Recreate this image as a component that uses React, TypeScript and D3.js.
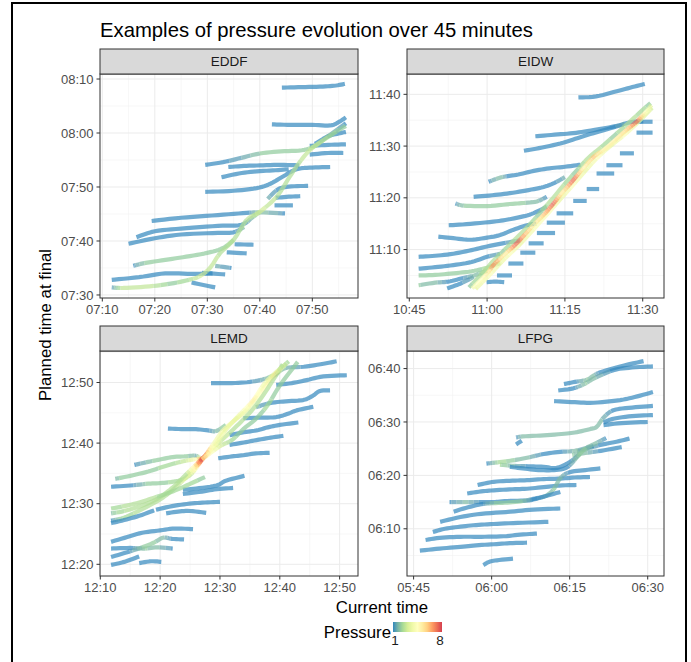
import React from "react";
import * as d3 from "d3";

type P = [number, number, number];

const titleText = "Examples of pressure evolution over 45 minutes";
const airports = ["EDDF", "EIDW", "LEMD", "LFPG"];
const baseHours = [7, 10, 12, 5];
const xTicksList = [[10, 20, 30, 40, 50], [45, 60, 75, 90], [10, 20, 30, 40, 50], [45, 60, 75, 90]];
const yTicksList = [[30, 40, 50, 60, 70], [70, 80, 90, 100], [20, 30, 40, 50], [70, 80, 90, 100]];
const xDomains = [[9.56, 58.7], [44.56, 94.1], [9.95, 53.07], [43.73, 93.13]];
const yDomains = [[29.44, 70.93], [60.64, 103.93], [18.07, 55.2], [61.16, 103.29]];
const pressureRange = [1, 8];
const spectral = ["#3288BD", "#99D594", "#E6F598", "#FFFFBF", "#FEE08B", "#FC8D59", "#D53E4F"];

// [current minute past base hour, planned minute past base hour, pressure]
const eddfTracks: P[][] = [
  [[44.2, 68.4, 1], [48, 68.5, 1], [52, 68.6, 1], [54.5, 68.8, 1], [56.2, 69.1, 1]],
  [[42.3, 61.6, 1], [46, 61.5, 1], [50, 61.5, 1], [53.4, 61.4, 1], [55, 62.0, 1], [56.4, 62.9, 1]],
  [[50.5, 58.0, 1], [53, 59.4, 1], [55, 59.9, 1], [56.4, 60.2, 1]],
  [[49.5, 57.6, 1], [53, 57.8, 1], [56.4, 57.9, 1]],
  [[49.5, 56.0, 1], [53, 56.3, 1], [55.9, 56.3, 1]],
  [[29.6, 54.1, 1], [33, 54.6, 1], [36.5, 55.4, 1.4], [40, 56.2, 1.9], [44, 56.6, 1.9], [48, 56.8, 1.9], [50.5, 57.6, 2.3], [53, 59.4, 1.7], [56.4, 61.8, 1]],
  [[34.0, 53.7, 1], [37, 53.9, 1], [40, 54.0, 1], [44, 54.1, 1], [47.5, 54.0, 1]],
  [[32.7, 51.8, 1], [36, 52.5, 1], [39.4, 52.9, 1], [43, 53.1, 1], [45.5, 53.3, 1]],
  [[29.6, 49.1, 1], [35, 49.3, 1], [39.4, 49.8, 1], [42, 50.6, 1], [44.5, 52.0, 1], [47, 53.3, 1], [50, 53.6, 1], [53.4, 53.7, 1]],
  [[41.5, 47.8, 1.6], [43.5, 49.6, 1], [46, 50.1, 1], [49.2, 50.2, 1]],
  [[43.0, 48.0, 1], [45.5, 48.2, 1], [47.7, 48.3, 1]],
  [[42.8, 46.6, 1], [46.3, 46.6, 1]],
  [[19.4, 43.7, 1], [25, 44.3, 1], [32, 44.8, 1], [37.5, 45.2, 1], [40, 45.3, 1.9], [44.8, 45.1, 1]],
  [[16.5, 40.7, 1], [20, 41.8, 1], [25, 42.3, 1], [32, 42.8, 1], [36.5, 43.0, 1], [38.5, 44.3, 1.8], [40, 45.4, 2.2]],
  [[15, 39.5, 1], [20, 40.5, 1], [25, 41.2, 1], [32, 41.5, 1], [35, 41.6, 1], [37, 42.6, 1.8]],
  [[15.9, 35.4, 1], [18, 35.9, 1.9], [22, 36.5, 1.9], [26, 37.1, 1.9], [30, 37.8, 2], [33, 38.7, 2], [35, 40.2, 2.4]],
  [[35.2, 39.4, 1], [38.8, 39.3, 1]],
  [[33.7, 37.9, 1], [37.5, 37.7, 1]],
  [[31.5, 35.4, 1.5], [34.6, 35.0, 1]],
  [[29, 34.1, 1], [33.4, 33.8, 1]],
  [[27, 32.3, 1], [31.5, 31.4, 1]],
  [[11.8, 32.8, 1], [17, 33.3, 1], [22, 34.0, 1], [27, 33.9, 1], [31, 34.0, 1]],
  [[11.8, 31.4, 1], [14, 31.3, 2.8], [19, 31.6, 2.8], [23, 32.1, 2.0], [26.5, 32.8, 2.4], [28.6, 33.5, 3], [30.5, 35.0, 2.8], [32.4, 37.7, 2.6], [35, 40.2, 2.6], [37.5, 43.9, 2.6], [40, 45.4, 3], [43.2, 48.2, 2.6], [45.7, 51.9, 2.6], [47.5, 54.5, 2.6], [49.6, 56.9, 2.8], [52, 58.6, 2.6], [55, 60.5, 2], [56.4, 61.3, 2]],
];

const eidwTracks: P[][] = [
  [[77.6, 99.4, 1], [81, 99.6, 1], [85, 100.6, 1], [88, 101.4, 1], [90.4, 102.0, 1]],
  [[69.3, 91.9, 1], [73, 92.2, 1], [76.6, 92.5, 1], [80, 93.0, 1], [85, 93.9, 1], [87.6, 94.6, 1], [90.1, 94.8, 1]],
  [[67.1, 89.1, 1], [70, 89.6, 1], [74.1, 90.5, 1], [77, 91.4, 1], [80.5, 92.5, 1], [84.3, 93.6, 1], [86.5, 94.3, 1.5]],
  [[60.3, 83.1, 1], [62.5, 83.9, 1.9], [64, 84.2, 1], [66, 84.5, 1], [69, 85.2, 1], [72, 85.7, 1], [75, 86.0, 1], [78, 86.4, 1]],
  [[57.4, 80.2, 1], [61, 80.5, 1], [64.4, 80.9, 1], [68, 81.5, 1], [70.9, 82.1, 1], [73, 82.9, 1], [75, 84.0, 1.6]],
  [[53.9, 78.9, 1], [55.5, 78.5, 1.9], [60, 78.4, 1.9], [64.4, 78.8, 1.9], [67, 79.0, 1.9], [69.6, 79.3, 1.7], [71.5, 80.2, 1]],
  [[52.6, 74.7, 1], [56, 74.9, 1], [61.2, 75.4, 1], [64, 75.8, 1], [67.7, 76.6, 1], [70, 77.5, 1], [71.5, 78.3, 1.6]],
  [[50.6, 72.5, 1], [53.5, 72.2, 1], [56.7, 71.9, 1], [60, 72.3, 1], [62.5, 72.8, 1], [65, 73.8, 1], [67.7, 74.7, 1], [69.5, 75.0, 1.6]],
  [[46.8, 68.6, 1], [50, 68.8, 1], [53.5, 69.2, 1], [57, 69.9, 1], [60, 70.6, 1], [63, 71.2, 1], [66.4, 71.8, 1.6]],
  [[46.8, 66.3, 1], [50, 66.6, 1], [53.5, 67.0, 1], [57, 67.6, 1], [60, 68.6, 1], [62.5, 69.2, 1.6]],
  [[46.8, 65.0, 1.9], [50, 65.1, 1.9], [53.5, 65.4, 1.9], [57, 65.8, 2], [60, 66.5, 2.2], [62.5, 67.4, 2.6]],
  [[46.8, 63.1, 1.9], [50, 63.6, 1.7], [52.5, 63.8, 1], [55, 64.4, 1], [57.5, 65.0, 1.7], [60, 65.9, 2.2]],
  [[52.3, 62.5, 1], [54.8, 63.4, 1], [57.4, 64.7, 1.6]],
  [[88.8, 94.7, 1], [90.3, 94.7, 1], [91.9, 94.7, 1]],
  [[88.8, 92.6, 1], [90.3, 92.6, 1], [91.9, 92.6, 1]],
  [[85.6, 88.6, 1], [87, 88.6, 1], [88.3, 88.6, 1]],
  [[83.0, 86.3, 1], [84.5, 86.3, 1], [86.1, 86.3, 1]],
  [[81.1, 84.7, 1], [82.8, 84.7, 1], [84.5, 84.7, 1]],
  [[79.2, 81.7, 1], [80.4, 81.7, 1], [81.6, 81.7, 1]],
  [[76.6, 79.4, 1], [77.9, 79.4, 1], [79.2, 79.4, 1]],
  [[73.4, 77.0, 1], [75, 77.0, 1], [76.6, 77.0, 1]],
  [[71.5, 75.2, 1], [73.2, 75.2, 1], [75.0, 75.2, 1]],
  [[69.6, 73.2, 1], [71.3, 73.2, 1], [73.1, 73.2, 1]],
  [[68.0, 71.2, 1], [69.5, 71.2, 1], [70.9, 71.2, 1]],
  [[66.4, 69.4, 1], [67.9, 69.4, 1], [69.3, 69.4, 1]],
  [[64.1, 67.3, 1], [65.5, 67.3, 1], [67.0, 67.3, 1]],
  [[61.9, 65.0, 1], [63.3, 65.0, 1], [64.8, 65.0, 1]],
  [[59.9, 63.7, 1], [61.6, 63.8, 1], [63.3, 63.7, 1]],
  [[56.5, 62.7, 2], [59, 65.3, 2.4], [61, 67.6, 2.6], [63, 69.6, 2.0], [65.2, 71.8, 2.6], [67.8, 74.4, 2.4], [70.2, 77.1, 2.0], [72.4, 79.6, 2.6], [74.8, 82.5, 2.4], [77.2, 85.2, 2.0], [79.6, 87.8, 2.6], [82, 89.8, 2.4], [84.6, 92.1, 2.0], [87.4, 94.6, 2.6], [90, 97.0, 2.2], [91.5, 98.3, 1.9]],
  [[57.8, 62.4, 3.5], [60.6, 65.2, 4.2], [62.5, 67.3, 3.5], [64.5, 69.3, 4.2], [66.5, 71.2, 3.5], [69.5, 74.5, 4.2], [72, 77.3, 4.2], [74, 79.6, 3.5], [76.5, 82.4, 4.2], [79, 85.3, 3.5], [81.5, 88, 4.2], [84, 90.2, 3.5], [86.5, 92.2, 4.2], [89, 94.5, 3.5], [91.8, 97.4, 3]],
  [[57.1, 62.5, 4], [60, 65.4, 5], [61.2, 67.0, 7], [63.5, 69.2, 5], [65.7, 71.2, 7.5], [68.9, 74.7, 5], [71, 76.8, 6], [72.8, 78.9, 7.5], [74.5, 81, 5], [76.6, 83.4, 7.5], [78.5, 85.7, 5], [80.5, 87.9, 6], [82.5, 89.3, 5], [84.3, 90.8, 5], [86.5, 92.8, 5.5], [88.8, 94.7, 7.5], [90.5, 96.5, 4.5], [91.7, 97.9, 3]],
];

const lemdTracks: P[][] = [
  [[39.4, 51.4, 2.5], [41, 52.4, 1.6], [44, 52.6, 1], [47.3, 53.1, 1], [49.5, 53.5, 1]],
  [[28.5, 49.9, 1], [32, 49.9, 1], [35, 50.1, 1], [37.5, 50.6, 1.6], [39.4, 51.4, 2.5]],
  [[39.4, 49.6, 1], [42, 49.9, 1], [44.5, 50.4, 1], [47.3, 51.0, 1], [51.2, 51.2, 1]],
  [[36, 45.9, 1.6], [38.3, 46.6, 1], [41, 46.9, 1], [43.9, 47.1, 1], [45.5, 47.8, 1], [46.7, 48.6, 1], [48.4, 48.7, 1]],
  [[33.9, 44.1, 1], [36.5, 44.2, 1], [39.4, 44.3, 1], [41.5, 44.9, 1], [42.8, 45.4, 1], [45.6, 46.0, 1]],
  [[31.6, 41.3, 1], [34, 41.8, 1], [36.1, 42.1, 1], [38, 42.6, 1], [40, 43.0, 1], [43.1, 43.4, 1]],
  [[31.6, 39.7, 1], [34, 40.1, 1], [36.1, 40.5, 1], [38.5, 40.9, 1], [40.6, 41.2, 1]],
  [[29.7, 37.5, 1], [32, 37.8, 1], [33.9, 38.0, 1], [36, 38.3, 1], [38.3, 38.4, 1]],
  [[21.3, 42.4, 1], [24, 42.3, 1], [26, 42.3, 1], [28, 42.1, 1], [29.4, 42.0, 1.8], [31, 43.0, 2]],
  [[15.7, 36.4, 1], [18, 36.9, 1.8], [20, 37.3, 2.0], [22.1, 37.7, 2.0], [24, 37.8, 2.0], [26, 37.9, 1.5], [27, 37.3, 5]],
  [[12.5, 34.1, 1.8], [15, 34.6, 2.0], [18, 35.3, 2.0], [20.5, 36.1, 2.2], [23, 36.8, 2.4], [25.5, 37.3, 3.5], [27, 37.4, 8]],
  [[11.8, 32.8, 1], [15, 33.0, 1], [18, 33.3, 2.0], [20, 33.4, 2.0], [22, 33.6, 2.2], [24, 34.1, 2.4], [25.5, 35.2, 3], [27, 37.3, 8]],
  [[11.8, 27.2, 1], [13.7, 27.6, 2.2], [16, 28.6, 2.4], [19.3, 30.3, 2.6], [21, 31.4, 2.6], [22.7, 32.8, 2.6], [25, 35.0, 3.5], [27.2, 37.5, 8], [29, 40, 4], [30.5, 42.1, 4], [32.5, 43.8, 3.5], [34.4, 45.4, 3.5], [36.5, 48, 4.5], [38.2, 50.2, 5], [39.4, 51.5, 6.5], [41.1, 53.1, 2.6]],
  [[11.8, 28.4, 1.8], [14, 28.8, 2.4], [17, 29.7, 2.6], [19.5, 30.8, 2.4], [22, 32.6, 2.6], [24.5, 35.0, 2.6], [27, 37.4, 8], [29.5, 39.8, 3], [31.5, 41.6, 2.6], [33.5, 43.5, 2.6], [35.5, 45.6, 2.6], [37.5, 48.3, 2.6], [39, 50.6, 2.4], [40.5, 53.0, 2.2]],
  [[27, 37.3, 7], [29, 39.5, 4], [31, 42.2, 3.5], [33, 44.4, 3.5], [35.5, 47.0, 5], [37.2, 49.5, 4], [38.8, 51.2, 3.5], [41.5, 53.5, 2]],
  [[27, 37.3, 6], [30, 39.5, 3], [32, 40.5, 2.2], [34, 42.4, 2.0], [36, 44, 2.0], [38, 46.3, 2.2], [40, 49.5, 1.9], [43, 53.4, 1.9]],
  [[23.8, 32.3, 1], [26, 32.5, 1], [29.4, 33.0, 1], [31, 33.8, 1], [34.1, 34.6, 1]],
  [[23.8, 31.6, 1], [27, 32.0, 1], [29.5, 32.4, 1], [32.2, 32.6, 1]],
  [[19.3, 29.0, 1], [22, 29.6, 1], [24.9, 30.0, 1], [27.5, 30.2, 1], [30, 30.3, 1]],
  [[11.8, 29.2, 2.2], [14, 29.6, 2.4], [16.5, 30.2, 2.4], [19, 31.0, 2.4], [21.5, 31.8, 2.2], [23.5, 32.6, 2.2], [25.5, 33.5, 2.2], [27.5, 34.4, 2.0]],
  [[11.8, 26.8, 1], [14, 27.3, 1], [16.5, 28.0, 1], [19, 28.9, 1]],
  [[21, 28.4, 1], [23, 28.7, 1], [25, 28.8, 1], [27.7, 28.5, 1]],
  [[11.8, 23.7, 1], [14.5, 24.5, 1], [17, 25.2, 1], [20, 25.6, 1], [22.5, 25.9, 1], [25.5, 25.8, 1]],
  [[11.8, 22.6, 1], [15, 22.7, 1], [17.5, 22.6, 1.9], [19.5, 22.8, 1.7], [22.1, 22.6, 1]],
  [[11.8, 21.2, 1], [14.5, 22.0, 1], [17, 22.8, 1.9], [19, 23.6, 1.9], [20.5, 24.4, 1.7], [22, 24.2, 1], [24, 24.1, 1]],
  [[11.8, 19.9, 1], [14, 20.4, 1], [16.5, 21.3, 1]],
  [[16.5, 20.2, 1], [18.5, 20.5, 1], [20.2, 20.4, 1]],
];

const lfpgTracks: P[][] = [
  [[73.9, 97.1, 1], [76, 97.5, 1], [78.3, 97.9, 1.9], [79.6, 98.7, 1.7], [80.9, 99.3, 1], [84.7, 100.4, 1], [89.2, 101.4, 1]],
  [[72.8, 95.9, 1], [75.7, 96.3, 1], [78, 97.2, 1.9], [79.6, 98.1, 1.7], [83.4, 99.7, 1], [87, 100.2, 1], [91, 100.4, 1]],
  [[72, 93.9, 1], [76, 93.7, 1], [79.6, 93.6, 1], [84.7, 94.1, 1], [88, 94.8, 1], [91, 95.6, 1]],
  [[64.7, 87.1, 1], [66, 87.3, 1.8], [70, 87.5, 1.8], [74, 87.8, 1.8], [76.4, 88.1, 1.8], [79, 88.7, 1.8], [80.2, 89.1, 1.8], [81.5, 90.8, 1.6], [83.4, 92.2, 1], [87, 92.7, 1], [91, 93.0, 1]],
  [[64.7, 85.8, 1], [65.8, 86.5, 1]],
  [[81.5, 89.9, 1], [83.4, 90.6, 1], [87, 91.1, 1], [91, 91.3, 1]],
  [[81.5, 89.4, 1], [85, 89.8, 1], [90, 90.0, 1]],
  [[76.4, 84.5, 1.9], [78.5, 85.0, 1.7], [80.9, 85.7, 1], [84, 86.3, 1], [86.5, 86.9, 1]],
  [[75.5, 83.8, 1.9], [78, 84.2, 1.7], [81, 84.6, 1], [85, 85.3, 1]],
  [[59, 82.2, 1], [61.6, 82.5, 2.4], [64, 82.8, 1.9], [66.8, 83.3, 1.7], [70, 84.0, 1], [73.2, 84.4, 1], [76, 84.6, 1.7], [79.6, 85.5, 1]],
  [[61.6, 82.0, 2.2], [64, 81.8, 1.7], [67, 81.7, 1], [70, 81.6, 1], [72.5, 81.4, 1], [75, 82.5, 1], [77, 84.0, 1.7]],
  [[63.5, 81.6, 1], [66, 81.3, 1], [69, 81.0, 1], [72, 81.0, 1], [74.5, 81.5, 1], [76.5, 83.5, 1.9], [78, 85.0, 1.9], [80, 86.0, 1.7], [82, 87.0, 1]],
  [[57.3, 78.2, 1], [60.4, 78.8, 1], [64, 79.0, 1], [66.8, 79.1, 1], [70, 79.3, 1], [73.2, 79.4, 1], [76, 79.6, 1], [78.9, 79.7, 1]],
  [[55.3, 76.6, 1], [58, 77.0, 1], [60.4, 77.2, 1], [64, 77.4, 1], [66.8, 77.5, 1], [70, 77.8, 1], [73, 78.1, 1], [76.3, 78.2, 1]],
  [[51.9, 75.0, 1], [55, 75.0, 1.7], [58, 75.0, 1], [60.4, 75.0, 1], [63, 75.2, 1], [66.8, 75.3, 1], [68.5, 75.6, 1], [70.5, 76.2, 1.7], [72, 77.5, 1.9], [73.2, 79.5, 1.7], [75, 80.6, 1], [78, 81.0, 1], [80.9, 81.3, 1]],
  [[52.7, 73.2, 1], [55, 73.9, 1], [58, 74.6, 1], [60.4, 74.8, 1.9], [63, 74.9, 1.9], [66, 75.2, 1.9], [68, 75.6, 1], [70.3, 76.1, 1], [73.2, 76.9, 1]],
  [[50.1, 71.3, 1], [54, 72.2, 1], [58, 72.8, 1], [63.6, 73.2, 1], [68, 73.6, 1], [73.2, 73.8, 1]],
  [[48.7, 69.4, 1], [51, 70.0, 1], [54, 70.4, 1], [57, 70.7, 1], [60.4, 70.9, 1], [65, 71.1, 1], [70.9, 71.3, 1]],
  [[47.3, 67.9, 1], [50, 68.3, 1], [54, 68.5, 1], [58, 68.5, 1], [62.3, 68.6, 1], [65.5, 68.9, 1], [68.7, 69.1, 1]],
  [[46.2, 65.9, 1], [50, 66.3, 1], [54, 66.6, 1], [57, 66.9, 1], [60.4, 67.1, 1], [63.5, 67.3, 1], [66.8, 67.4, 1]],
  [[58.4, 63.2, 1], [59.5, 63.8, 1], [61, 64.1, 1], [64.1, 64.4, 1]],
];

const trackSets = [eddfTracks, eidwTracks, lemdTracks, lfpgTracks];

const FONT = "'Liberation Sans', Arial, Helvetica, sans-serif";
const panelBoxes = [
  { x0: 100, x1: 358, y0: 74, y1: 298 },
  { x0: 407, x1: 664, y0: 74, y1: 298 },
  { x0: 100, x1: 358, y0: 351, y1: 576 },
  { x0: 407, x1: 664, y0: 351, y1: 576 },
];
const STRIP_H = 25;

const colorScale = d3
  .scaleLinear<string>()
  .domain(spectral.map((_, i) => pressureRange[0] + (i * (pressureRange[1] - pressureRange[0])) / (spectral.length - 1)))
  .range(spectral)
  .interpolate(d3.interpolateLab)
  .clamp(true);

function fmt(base: number, m: number) {
  const h = base + Math.floor(m / 60);
  const mm = ((m % 60) + 60) % 60;
  return `${String(h).padStart(2, "0")}:${String(Math.round(mm)).padStart(2, "0")}`;
}

function minors(ticks: number[], dom: number[]) {
  const step = ticks[1] - ticks[0];
  const out: number[] = [];
  for (let t = ticks[0] - step; t <= ticks[ticks.length - 1] + step; t += step) {
    const m = t + step / 2;
    if (m >= dom[0] && m <= dom[1]) out.push(m);
  }
  return out;
}

function densify(track: P[], sx: (v: number) => number, sy: (v: number) => number) {
  const pts = track.map((d) => [sx(d[0]), sy(d[1]), d[2]] as [number, number, number]);
  const out: [number, number, number][] = [];
  const n = pts.length;
  const K = 6;
  for (let i = 0; i < n - 1; i++) {
    const p0 = pts[Math.max(0, i - 1)];
    const p1 = pts[i];
    const p2 = pts[i + 1];
    const p3 = pts[Math.min(n - 1, i + 2)];
    for (let k = 0; k < K; k++) {
      const t = k / K;
      const t2 = t * t, t3 = t2 * t;
      const cr = (a: number, b: number, c: number, d: number) =>
        0.5 * (2 * b + (-a + c) * t + (2 * a - 5 * b + 4 * c - d) * t2 + (-a + 3 * b - 3 * c + d) * t3);
      out.push([cr(p0[0], p1[0], p2[0], p3[0]), cr(p0[1], p1[1], p2[1], p3[1]), p1[2] + (p2[2] - p1[2]) * t]);
    }
  }
  out.push(pts[n - 1]);
  return out;
}

function trackPaths(track: P[], sx: any, sy: any) {
  const pts = densify(track, sx, sy);
  const groups: { d: string; c: string }[] = [];
  let cur: [number, number][] = [];
  let curKey = -1;
  for (let i = 0; i < pts.length - 1; i++) {
    const pm = (pts[i][2] + pts[i + 1][2]) / 2;
    const key = Math.round(pm * 4) / 4;
    if (key !== curKey) {
      if (cur.length > 1) groups.push({ d: d3.line()(cur) as string, c: colorScale(curKey) });
      cur = [[pts[i][0], pts[i][1]]];
      curKey = key;
    }
    cur.push([pts[i + 1][0], pts[i + 1][1]]);
  }
  if (cur.length > 1) groups.push({ d: d3.line()(cur) as string, c: colorScale(curKey) });
  return groups;
}

function Panel({ idx }: { idx: number }) {
  const b = panelBoxes[idx];
  const xDom = xDomains[idx];
  const yDom = yDomains[idx];
  const sx = d3.scaleLinear().domain(xDom).range([b.x0, b.x1]);
  const sy = d3.scaleLinear().domain(yDom).range([b.y1, b.y0]);
  const xt = xTicksList[idx];
  const yt = yTicksList[idx];
  const base = baseHours[idx];
  const clipId = `clip-${idx}`;
  return (
    <g>
      <defs>
        <clipPath id={clipId}>
          <rect x={b.x0} y={b.y0} width={b.x1 - b.x0} height={b.y1 - b.y0} />
        </clipPath>
      </defs>
      <rect x={b.x0} y={b.y0} width={b.x1 - b.x0} height={b.y1 - b.y0} fill="#fff" />
      {minors(xt, xDom).map((m) => (
        <line key={"mx" + m} x1={sx(m)} x2={sx(m)} y1={b.y0} y2={b.y1} stroke="#f2f2f2" strokeWidth={0.6} />
      ))}
      {minors(yt, yDom).map((m) => (
        <line key={"my" + m} y1={sy(m)} y2={sy(m)} x1={b.x0} x2={b.x1} stroke="#f2f2f2" strokeWidth={0.6} />
      ))}
      {xt.map((t) => (
        <line key={"gx" + t} x1={sx(t)} x2={sx(t)} y1={b.y0} y2={b.y1} stroke="#ebebeb" strokeWidth={1} />
      ))}
      {yt.map((t) => (
        <line key={"gy" + t} y1={sy(t)} y2={sy(t)} x1={b.x0} x2={b.x1} stroke="#ebebeb" strokeWidth={1} />
      ))}
      <g clipPath={`url(#${clipId})`}>
        {trackSets[idx].map((tr, i) =>
          trackPaths(tr, sx, sy).map((g, j) => (
            <path key={`${i}-${j}`} d={g.d} fill="none" stroke={g.c} strokeOpacity={0.7} strokeWidth={4.2} strokeLinecap="butt" strokeLinejoin="round" />
          ))
        )}
      </g>
      <rect x={b.x0} y={b.y0} width={b.x1 - b.x0} height={b.y1 - b.y0} fill="none" stroke="#333" strokeWidth={1} />
      <rect x={b.x0} y={b.y0 - STRIP_H} width={b.x1 - b.x0} height={STRIP_H} fill="#d9d9d9" stroke="#333" strokeWidth={1} />
      <text x={(b.x0 + b.x1) / 2} y={b.y0 - STRIP_H / 2 + 4.8} textAnchor="middle" fontSize={13.5} fill="#1a1a1a" fontFamily={FONT}>
        {airports[idx]}
      </text>
      {xt.map((t) => (
        <g key={"xt" + t}>
          <line x1={sx(t)} x2={sx(t)} y1={b.y1} y2={b.y1 + 3.5} stroke="#333" strokeWidth={1} />
          <text x={sx(t)} y={b.y1 + 16} textAnchor="middle" fontSize={13} fill="#4d4d4d" fontFamily={FONT}>
            {fmt(base, t)}
          </text>
        </g>
      ))}
      {yt.map((t) => (
        <g key={"yt" + t}>
          <line x1={b.x0 - 3.5} x2={b.x0} y1={sy(t)} y2={sy(t)} stroke="#333" strokeWidth={1} />
          <text x={b.x0 - 6.5} y={sy(t) + 4.6} textAnchor="end" fontSize={13} fill="#4d4d4d" fontFamily={FONT}>
            {fmt(base, t)}
          </text>
        </g>
      ))}
    </g>
  );
}

export default function App() {
  const stops = d3.range(0, 1.0001, 0.1).map((f) => ({
    off: f,
    c: colorScale(pressureRange[0] + f * (pressureRange[1] - pressureRange[0])),
  }));
  return (
    <svg width={691} height={662} style={{ position: "absolute", left: 0, top: 0, background: "#fff" }} fontFamily={FONT}>
      <defs>
        <linearGradient id="pgrad" x1="0" x2="1" y1="0" y2="0">
          {stops.map((s) => (
            <stop key={s.off} offset={s.off} stopColor={s.c} />
          ))}
        </linearGradient>
      </defs>
      <rect x={0} y={0} width={691} height={662} fill="#fff" />
      <rect x={12} y={3} width={674} height={700} fill="none" stroke="#000" strokeWidth={2} />
      <text x={100} y={37} fontSize={20.3} fill="#000">
        {titleText}
      </text>
      {airports.map((_, i) => (
        <Panel key={i} idx={i} />
      ))}
      <text transform="translate(51,325) rotate(-90)" textAnchor="middle" fontSize={16.8} fill="#000">
        Planned time at final
      </text>
      <text x={382} y={613} textAnchor="middle" fontSize={16.8} fill="#000">
        Current time
      </text>
      <text x={391} y={638} textAnchor="end" fontSize={16.8} fill="#000">
        Pressure
      </text>
      <rect x={393} y={622} width={49} height={10} fill="url(#pgrad)" />
      <text x={395} y={645} textAnchor="middle" fontSize={13.5} fill="#1a1a1a">
        {pressureRange[0]}
      </text>
      <text x={440} y={645} textAnchor="middle" fontSize={13.5} fill="#1a1a1a">
        {pressureRange[1]}
      </text>
    </svg>
  );
}
